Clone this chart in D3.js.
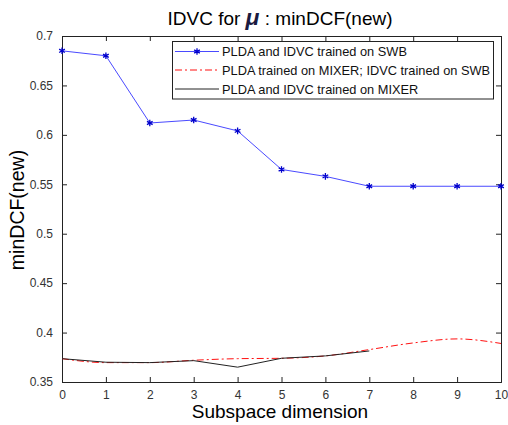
<!DOCTYPE html>
<html>
<head>
<meta charset="utf-8">
<script src="https://cdn.jsdelivr.net/npm/d3@7"></script>
<style>
  body { margin: 0; background: #fff; }
  text { font-family: "Liberation Sans", Arial, sans-serif; }
</style>
</head>
<body>
<div id="chart"></div>
<script>
// Data
const dims = [0, 1, 2, 3, 4, 5, 6, 7, 8, 9, 10];
const swb = [0.685, 0.680, 0.612, 0.615, 0.604, 0.565, 0.558, 0.548, 0.548, 0.548, 0.548];
const mixerSwb = [0.3736, 0.3696, 0.3696, 0.372, 0.3736, 0.374, 0.3764, 0.3828, 0.3895, 0.3936, 0.389];
const mixer = [0.3736, 0.370, 0.3696, 0.3716, 0.365, 0.374, 0.3764, 0.3814];
const yTicks = [0.35, 0.4, 0.45, 0.5, 0.55, 0.6, 0.65, 0.7];
const legendLabels = [
  'PLDA and IDVC trained on SWB',
  'PLDA trained on MIXER; IDVC trained on SWB',
  'PLDA and IDVC trained on MIXER'
];

const width = 508, height = 425;
const margin = { top: 36, right: 7, bottom: 43, left: 62 };

const svg = d3.select('#chart').append('svg')
  .attr('width', width)
  .attr('height', height);

const x = d3.scaleLinear().domain([0, 10]).range([margin.left, width - margin.right]);
const y = d3.scaleLinear().domain([0.35, 0.7]).range([height - margin.bottom, margin.top]);

// Axes: ticks point inward, on all four sides
const tickLen = 5;
const axisColor = '#222';
const labelColor = '#333';

const bottomAxis = svg.append('g')
  .attr('transform', `translate(0,${height - margin.bottom})`)
  .call(d3.axisBottom(x).tickValues(dims).tickSize(-tickLen).tickPadding(8).tickFormat(d3.format('d')));
const topAxis = svg.append('g')
  .attr('transform', `translate(0,${margin.top})`)
  .call(d3.axisTop(x).tickValues(dims).tickSize(-tickLen).tickFormat(''));
const leftAxis = svg.append('g')
  .attr('transform', `translate(${margin.left},0)`)
  .call(d3.axisLeft(y).tickValues(yTicks).tickSize(-tickLen).tickPadding(9).tickFormat(d => String(+d.toFixed(2))));
const rightAxis = svg.append('g')
  .attr('transform', `translate(${width - margin.right},0)`)
  .call(d3.axisRight(y).tickValues(yTicks).tickSize(-tickLen).tickFormat(''));

[bottomAxis, topAxis, leftAxis, rightAxis].forEach(g => {
  g.select('.domain').attr('stroke', axisColor);
  g.selectAll('.tick line').attr('stroke', axisColor);
  g.selectAll('.tick text').attr('fill', labelColor).style('font-size', '12px');
});

// Series lines
const line = d3.line().x((d, i) => x(dims[i])).y(d => y(d));

svg.append('path')
  .datum(swb)
  .attr('d', line)
  .attr('fill', 'none')
  .attr('stroke', '#4a4aff')
  .attr('stroke-width', 1);

svg.append('path')
  .datum(mixerSwb)
  .attr('d', line.curve(d3.curveMonotoneX))
  .attr('fill', 'none')
  .attr('stroke', '#ff1010')
  .attr('stroke-width', 1)
  .attr('stroke-dasharray', '7,3,2,3');

svg.append('path')
  .datum(mixer)
  .attr('d', d3.line().x((d, i) => x(dims[i])).y(d => y(d)))
  .attr('fill', 'none')
  .attr('stroke', '#222')
  .attr('stroke-width', 1);

// Asterisk markers
const star = d3.symbol().type(d3.symbolAsterisk).size(30);
svg.append('g').selectAll('path')
  .data(swb)
  .join('path')
  .attr('transform', (d, i) => `translate(${x(dims[i])},${y(d)})`)
  .attr('d', star)
  .attr('fill', 'none')
  .attr('stroke', '#0000cc')
  .attr('stroke-width', 1.3);

// Legend
const legend = svg.append('g');
legend.append('rect')
  .attr('x', 172.5).attr('y', 41.5)
  .attr('width', 321).attr('height', 57.5)
  .attr('fill', '#fff').attr('stroke', '#222');

const legendStyles = [
  { stroke: '#4a4aff', dash: null, marker: true },
  { stroke: '#ff1010', dash: '7,3,2,3', marker: false },
  { stroke: '#222', dash: null, marker: false }
];
const legendY = [51.5, 70, 89];
legendLabels.forEach((label, i) => {
  const s = legendStyles[i];
  legend.append('line')
    .attr('x1', 175).attr('x2', 219)
    .attr('y1', legendY[i]).attr('y2', legendY[i])
    .attr('stroke', s.stroke)
    .attr('stroke-dasharray', s.dash);
  if (s.marker) {
    legend.append('path')
      .attr('transform', `translate(197,${legendY[i]})`)
      .attr('d', star)
      .attr('fill', 'none')
      .attr('stroke', '#0000cc')
      .attr('stroke-width', 1.3);
  }
  legend.append('text')
    .attr('x', 222).attr('y', legendY[i] + 4.5)
    .style('font-size', '12.8px')
    .attr('fill', '#111')
    .text(label);
});

// Title
const title = svg.append('text')
  .attr('x', 280).attr('y', 25)
  .attr('text-anchor', 'middle')
  .style('font-size', '19px')
  .attr('fill', '#000');
title.append('tspan').text('IDVC for ');
title.append('tspan')
  .style('font-weight', 'bold').style('font-style', 'italic').style('font-size', '23px')
  .attr('fill', '#1a1a40')
  .text('μ');
title.append('tspan').text(' : minDCF(new)');

// Axis labels
svg.append('text')
  .attr('x', 280).attr('y', 418)
  .attr('text-anchor', 'middle')
  .style('font-size', '19px')
  .text('Subspace dimension');

svg.append('text')
  .attr('transform', 'translate(24,210) rotate(-90)')
  .attr('text-anchor', 'middle')
  .style('font-size', '19.5px')
  .text('minDCF(new)');
</script>
</body>
</html>
